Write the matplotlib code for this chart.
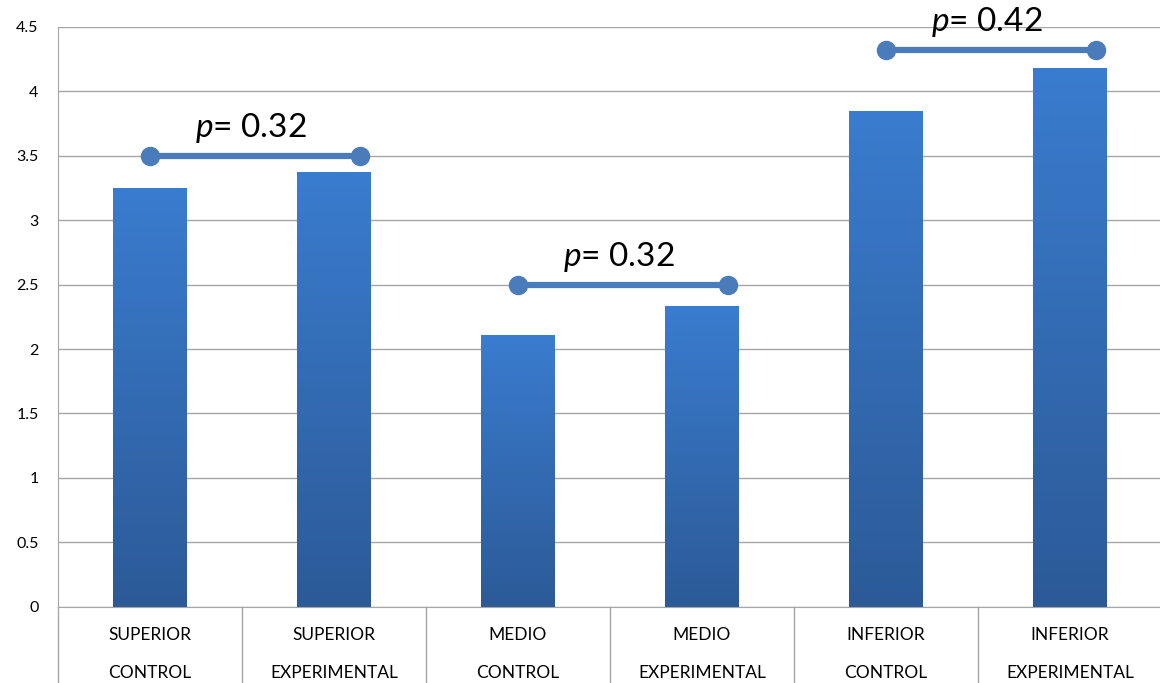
import numpy as np
import matplotlib.pyplot as plt
from matplotlib.colors import LinearSegmentedColormap

plt.rcParams['font.family'] = ['Lato', 'DejaVu Sans']
plt.rcParams['mathtext.fontset'] = 'custom'
plt.rcParams['mathtext.rm'] = 'Lato'
plt.rcParams['mathtext.it'] = 'Lato:italic'

line1 = ['SUPERIOR', 'SUPERIOR', 'MEDIO', 'MEDIO', 'INFERIOR', 'INFERIOR']
line2 = ['CONTROL', 'EXPERIMENTAL', 'CONTROL', 'EXPERIMENTAL', 'CONTROL', 'EXPERIMENTAL']
values = [3.25, 3.37, 2.11, 2.33, 3.85, 4.18]

# p-value brackets: start category, bracket height, label
p_start = [0, 2, 4]
p_height = [3.5, 2.5, 4.32]
p_text = ['0.32', '0.32', '0.42']

fig = plt.figure(figsize=(11.6, 6.83), dpi=100)
ax = fig.add_axes([58/1160, 1 - 606.7/683, 1104/1160, (606.7 - 27)/683])

x = np.arange(len(values))
w = 0.40
grad_cmap = LinearSegmentedColormap.from_list('bar', ['#2c5a97', '#3a7ccf'])
grad = np.linspace(0, 1, 256).reshape(-1, 1)
for xi, v in zip(x, values):
    ax.imshow(grad, extent=[xi - w/2, xi + w/2, 0, v], origin='lower',
              aspect='auto', cmap=grad_cmap, zorder=2)

for s, h, t in zip(p_start, p_height, p_text):
    ax.plot([s, s + 1.14], [h, h], color='#4a7cbb', lw=4.5, marker='o',
            ms=13, zorder=4, clip_on=False, solid_capstyle='butt')
    ax.annotate(r'$p$= ' + t, (s + 0.55, h), xytext=(0, 8),
                textcoords='offset points', ha='center', va='bottom',
                fontsize=24, color='black', annotation_clip=False)

ax.set_xlim(-0.5, 5.5)
ax.set_ylim(0, 4.5)
ax.set_yticks(np.arange(0, 4.51, 0.5))
ax.set_yticklabels(['0', '0.5', '1', '1.5', '2', '2.5', '3', '3.5', '4', '4.5'])
ax.yaxis.grid(True, color='#a6a6a6', lw=1)
ax.set_axisbelow(True)
ax.tick_params(axis='y', length=0, pad=14, labelsize=11.5)
ax.set_xticks([])
for sp in ['top', 'right']:
    ax.spines[sp].set_visible(False)
ax.spines['left'].set_color('#a6a6a6')
ax.spines['bottom'].set_color('#a6a6a6')

# category table under the axis
tr = ax.get_xaxis_transform()
for b in np.arange(-0.5, 6.0, 1.0):
    ax.plot([b, b], [0, -0.2], color='#a6a6a6', lw=1, transform=tr, clip_on=False)
for xi, a, b in zip(x, line1, line2):
    ax.text(xi, -0.048, a, transform=tr, ha='center', va='center', fontsize=12.5)
    ax.text(xi, -0.114, b, transform=tr, ha='center', va='center', fontsize=12.5)

fig.savefig('out.png', dpi=100, facecolor='white')
